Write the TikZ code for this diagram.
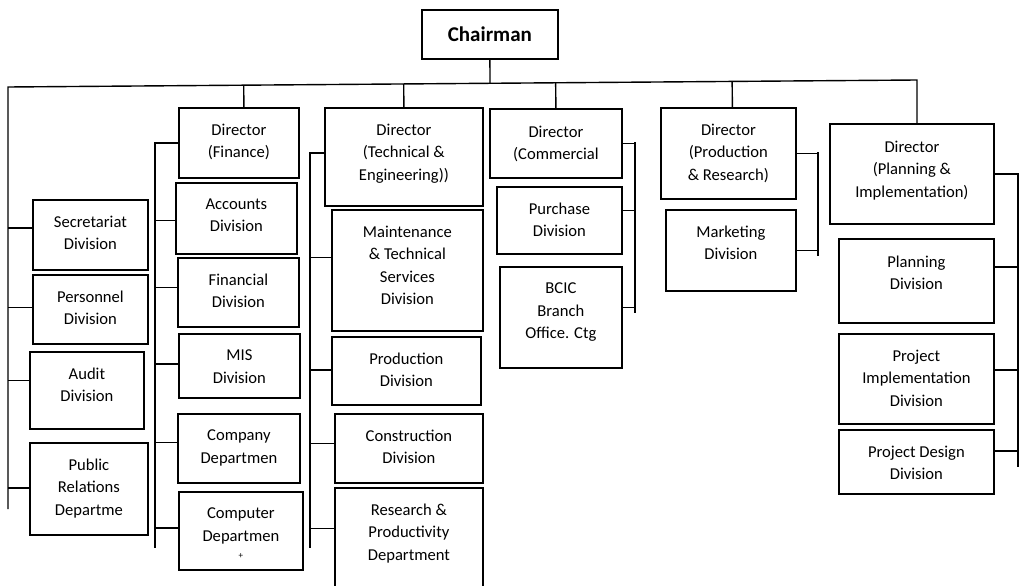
\documentclass[tikz,border=0pt]{standalone}
\usepackage{fontspec}
\setmainfont{Carlito}
\usetikzlibrary{positioning,calc}

\begin{document}
\begin{tikzpicture}[x=1pt, y=-1pt, line width=1.4pt,
  unit/.style={draw, line width=1.8pt, anchor=north west, inner sep=0pt},
  txt/.style={align=center, inner sep=0pt, font=\fontsize{16.6}{22.6}\selectfont}]
  \useasboundingbox (0,0) rectangle (1029,586);

  % chairman and bus
  \node[unit, minimum width=136, minimum height=49, anchor=north west,
    font=\fontsize{21}{24}\selectfont\bfseries] (chair) at (421,9) {Chairman};
  \coordinate (busL) at (8,87);
  \coordinate (busR) at (917,80);
  \coordinate (left-bot) at (8,509);

  % left column
  \node[unit, minimum width=115, minimum height=70] (secr) at (32,199) {};
  \node[unit, minimum width=115, minimum height=69] (pers) at (32,274) {};
  \node[unit, minimum width=114, minimum height=77] (audit) at (29,351) {};
  \node[unit, minimum width=118, minimum height=92] (pubrel) at (29,442) {};
  \node[txt, below=16pt of secr.north] (secr-t) {Secretariat\\Division};
  \node[txt, below=16pt of pers.north] (pers-t) {Personnel\\Division};
  \node[txt, below=16pt of audit.north] (audit-t) {Audit\\Division};
  \node[txt, below=16pt of pubrel.north] (pubrel-t) {Public\\Relations\\Departme};

  % finance
  \node[unit, minimum width=120, minimum height=70] (dfin) at (178,107) {};
  \node[unit, minimum width=121, minimum height=71] (accts) at (175,182) {};
  \node[unit, minimum width=121, minimum height=69] (finc) at (177,257) {};
  \node[unit, minimum width=121, minimum height=64] (mis) at (178,333) {};
  \node[unit, minimum width=122, minimum height=69] (compdep) at (177,413) {};
  \node[unit, minimum width=124, minimum height=78] (compt) at (178,491) {};
  \node[txt, below=16pt of dfin.north] (dfin-t) {Director\\(Finance)};
  \node[txt, below=16pt of accts.north] (accts-t) {Accounts\\Division};
  \node[txt, below=16pt of finc.north] (finc-t) {Financial\\Division};
  \node[txt, below=16pt of mis.north] (mis-t) {MIS\\Division};
  \node[txt, below=16pt of compdep.north] (compdep-t) {Company\\Departmen};
  \node[txt, below=16pt of compt.north] (compt-t) {Computer\\Departmen\\[-5pt]{\fontsize{9}{9}\selectfont +}};
  \coordinate (fsp-top) at (155,142);
  \coordinate (fsp-bot) at (155,548);

  % technical
  \node[unit, minimum width=158, minimum height=98] (dtech) at (324,107) {};
  \node[unit, minimum width=151, minimum height=121] (maint) at (331,209) {};
  \node[unit, minimum width=149, minimum height=68] (prodn) at (331,336) {};
  \node[unit, minimum width=148, minimum height=69] (constr) at (334,413) {};
  \node[unit, minimum width=148, minimum height=105] (research) at (334,487) {};
  \node[txt, below=16pt of dtech.north] (dtech-t) {Director\\(Technical \&\\Engineering))};
  \node[txt, below=16pt of maint.north] (maint-t) {Maintenance\\\& Technical\\Services\\Division};
  \node[txt, below=16pt of prodn.north] (prodn-t) {Production\\Division};
  \node[txt, below=16pt of constr.north] (constr-t) {Construction\\Division};
  \node[txt, below=16pt of research.north] (research-t) {Research \&\\Productivity\\Department};
  \coordinate (tsp-top) at (310,152);
  \coordinate (tsp-bot) at (310,548);

  % commercial
  \node[unit, minimum width=132, minimum height=69] (dcom) at (489,108) {};
  \node[unit, minimum width=125, minimum height=67] (purch) at (496,186) {};
  \node[unit, minimum width=122, minimum height=101] (bcic) at (499,266) {};
  \node[txt, below=17pt of dcom.north] (dcom-t) {Director\\(Commercial};
  \node[txt, below=16pt of purch.north] (purch-t) {Purchase\\Division};
  \node[txt, below=16pt of bcic.north] (bcic-t) {BCIC\\Branch\\Office. Ctg};
  \coordinate (csp-top) at (635,142);
  \coordinate (csp-bot) at (635,313);

  % production
  \node[unit, minimum width=135, minimum height=91] (dprod) at (660,107) {};
  \node[unit, minimum width=130, minimum height=81] (mktg) at (665,209) {};
  \node[txt, below=16pt of dprod.north] (dprod-t) {Director\\(Production\\\& Research)};
  \node[txt, below=16pt of mktg.north] (mktg-t) {Marketing\\Division};
  \coordinate (psp-top) at (818,152);
  \coordinate (psp-bot) at (818,256);

  % planning
  \node[unit, minimum width=164, minimum height=100] (dplan) at (829,123) {};
  \node[unit, minimum width=155, minimum height=84] (plan) at (838,238) {};
  \node[unit, minimum width=155, minimum height=90] (projimp) at (838,333) {};
  \node[unit, minimum width=155, minimum height=64] (projdes) at (838,429) {};
  \node[txt, below=17pt of dplan.north] (dplan-t) {Director\\(Planning \&\\Implementation)};
  \node[txt, below=17pt of plan.north] (plan-t) {Planning\\Division};
  \node[txt, below=16pt of projimp.north] (projimp-t) {Project\\Implementation\\Division};
  \node[txt, below=16pt of projdes.north] (projdes-t) {Project Design\\Division};
  \coordinate (nsp-top) at (1018,173);
  \coordinate (nsp-bot) at (1018,467);

  % lines
  \draw (left-bot) -- (busL) -- (busR) -- (busR |- dplan.north);
  \draw (chair.south) -- ($(busL)!(chair.south)!(busR)$);
  \foreach \bx/\dx in {dfin/5, dtech/0, dcom/0, dprod/4}
    \draw ([xshift=\dx]\bx.north) coordinate (c) -- ($(busL)!(c)!(busR)$);
  \draw (fsp-top) -- (fsp-bot);
  \draw (tsp-top) -- (tsp-bot);
  \draw (csp-top) -- (csp-bot);
  \draw (psp-top) -- (psp-bot);
  \draw (nsp-top) -- (nsp-bot);
  \foreach \bx/\dy in {secr/7, pers/2, audit/10, pubrel/1}
    \draw ([yshift=\dy]\bx.west) coordinate (c) -- (c -| left-bot);
  \foreach \bx/\dy in {dfin/0, accts/-2, finc/5, mis/2, compdep/6, compt/3}
    \draw ([yshift=\dy]\bx.west) coordinate (c) -- (c -| fsp-top);
  \foreach \bx/\dy in {dtech/4, maint/13, prodn/1, constr/5, research/12}
    \draw ([yshift=\dy]\bx.west) coordinate (c) -- (c -| tsp-top);
  \foreach \bx/\dy in {dcom/0, purch/10, bcic/10}
    \draw ([yshift=\dy]\bx.east) coordinate (c) -- (c -| csp-top);
  \foreach \bx/\dy in {dprod/0, mktg/0}
    \draw ([yshift=\dy]\bx.east) coordinate (c) -- (c -| psp-top);
  \foreach \bx/\dy in {dplan/0, plan/14, projimp/9, projdes/11}
    \draw ([yshift=\dy]\bx.east) coordinate (c) -- (c -| nsp-top);
\end{tikzpicture}
\end{document}
